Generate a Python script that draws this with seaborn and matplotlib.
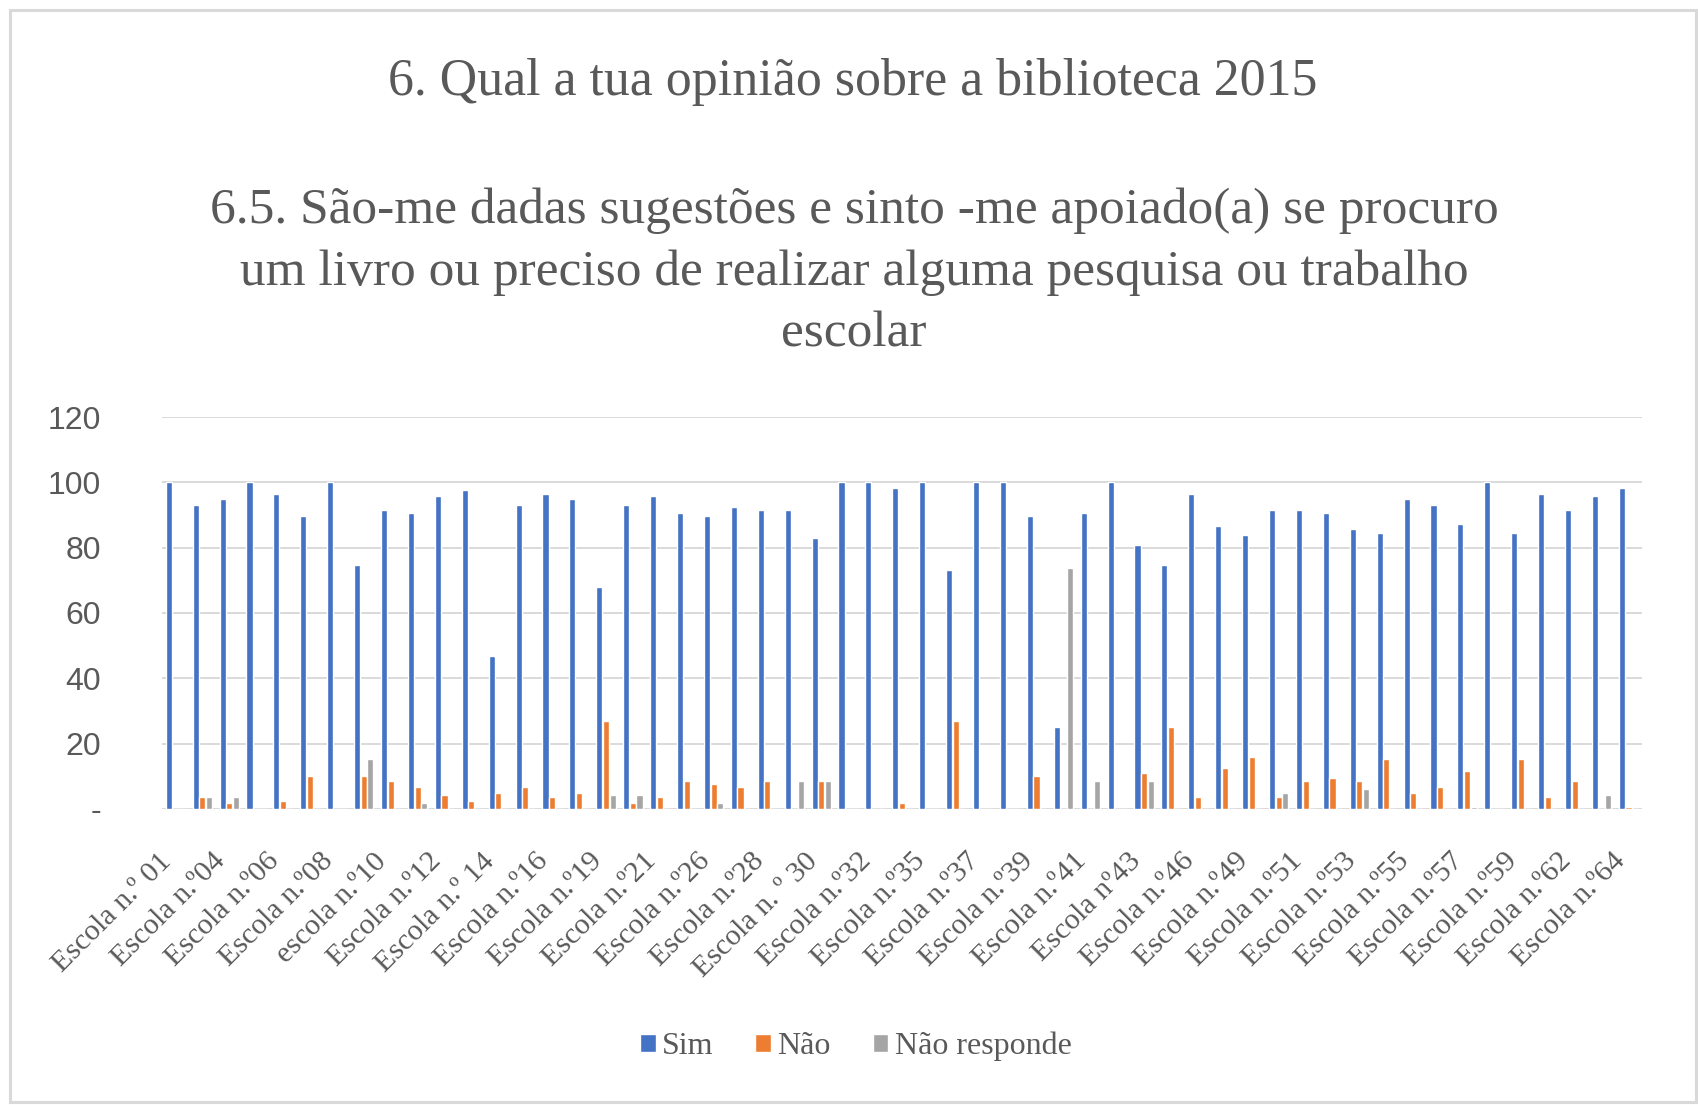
import pandas as pd
import matplotlib.pyplot as plt
import seaborn as sns
from matplotlib.patches import Rectangle
from matplotlib.ticker import FuncFormatter
from matplotlib.transforms import ScaledTranslation

# escolas (só metade dos nomes aparece no eixo)
escolas = ['Escola n.º 01', 'Escola n.º03', 'Escola n.º04', 'Escola n.º05', 'Escola n.º06',
           'Escola n.º07', 'Escola n.º08', 'Escola n.º09', 'escola n.º10', 'Escola n.º11',
           'Escola n.º12', 'Escola n.º13', 'Escola n.º 14', 'Escola n.º15', 'Escola n.º16',
           'Escola n.º18', 'Escola n.º19', 'Escola n.º20', 'Escola n.º21', 'Escola n.º24',
           'Escola n.º26', 'Escola n.º27', 'Escola n.º28', 'Escola n.º29', 'Escola n. º 30',
           'Escola n.º31', 'Escola n.º32', 'Escola n.º34', 'Escola n.º35', 'Escola n.º36',
           'Escola n.º37', 'Escola n.º38', 'Escola n.º39', 'Escola n.º40', 'Escola n.º41',
           'Escola n.º42', 'Escola nº43', 'Escola n.º45', 'Escola n.º46', 'Escola n.º48',
           'Escola n.º49', 'Escola n.º50', 'Escola n.º51', 'Escola n.º52', 'Escola n.º53',
           'Escola n.º54', 'Escola n.º55', 'Escola n.º56', 'Escola n.º57', 'Escola n.º58',
           'Escola n.º59', 'Escola n.º61', 'Escola n.º62', 'Escola n.º63', 'Escola n.º64']

sim = [100, 93.2, 94.8, 100, 96.5, 89.8, 100, 74.7, 91.5, 90.5,
       95.7, 97.5, 46.9, 93.2, 96.5, 94.8, 67.9, 93.2, 95.7, 90.5,
       89.8, 92.4, 91.5, 91.5, 83.0, 100, 100, 98.3, 100, 73.0,
       100, 100, 89.8, 25.2, 90.5, 100, 80.7, 74.7, 96.5, 86.5,
       84.0, 91.5, 91.5, 90.5, 85.6, 84.6, 94.8, 93.2, 87.3, 100,
       84.6, 96.5, 91.5, 95.7, 98.3]
nao = [0, 3.5, 1.7, 0, 2.4, 10.1, 0, 10.1, 8.4, 6.6,
       4.2, 2.4, 5.0, 6.6, 3.5, 5.0, 26.9, 1.7, 3.5, 8.4,
       7.6, 6.6, 8.4, 0, 8.4, 0, 0, 1.7, 0, 26.9,
       0, 0, 10.1, 0, 0, 0, 10.9, 25.2, 3.5, 12.6,
       16.0, 3.5, 8.4, 9.3, 8.4, 15.2, 5.0, 6.6, 11.7, 0,
       15.2, 3.5, 8.4, 0, 0.6]
nao_responde = [0, 3.5, 3.5, 0, 0, 0, 0, 15.2, 0, 1.7,
                0, 0, 0, 0, 0, 0, 4.2, 4.2, 0, 0,
                1.7, 0, 0, 8.4, 8.4, 0, 0, 0, 0, 0,
                0, 0, 0, 73.8, 8.4, 0, 8.4, 0, 0, 0,
                0, 5.0, 0, 0, 6.0, 0, 0, 0, 0.5, 0,
                0, 0, 0, 4.2, 0]

series = ['Sim', 'Não', 'Não responde']
cores = ['#4472C4', '#ED7D31', '#A5A5A5']

df = pd.DataFrame({'escola': escolas, 'Sim': sim, 'Não': nao, 'Não responde': nao_responde})
df = df.melt(id_vars='escola', var_name='resposta', value_name='pct')

sns.set_theme(style='white')
plt.rcParams['font.family'] = ['Liberation Serif', 'DejaVu Serif']
cinza = '#595959'

fig = plt.figure(figsize=(16.98, 11.05), dpi=100)
ax = fig.add_axes([0.0954, 0.268, 0.8716, 0.3546])

sns.barplot(data=df, x='escola', y='pct', hue='resposta', hue_order=series,
            palette=cores, width=0.74, gap=0.08, saturation=1, ax=ax, legend=True)

ax.set_ylim(0, 120)
ax.set_xlim(-0.5, len(escolas) - 0.5)
ax.set_yticks(range(0, 121, 20))
ax.yaxis.set_major_formatter(FuncFormatter(lambda v, p: '-' if v == 0 else f'{int(v)}'))
ax.yaxis.grid(True, color='#D9D9D9', linewidth=1.4)
ax.set_axisbelow(True)
for s in ax.spines.values():
    s.set_visible(False)
ax.set_xlabel('')
ax.set_ylabel('')
ax.tick_params(axis='y', length=0, pad=44, labelsize=23, labelcolor=cinza)
for t in ax.get_yticklabels():
    t.set_family('Liberation Sans')

ax.set_xticks(range(0, len(escolas), 2))
ax.set_xticklabels(escolas[::2], rotation=45, ha='right', rotation_mode='anchor',
                   fontsize=21.5, color=cinza)
ax.tick_params(axis='x', length=0, pad=16)
desvio = ScaledTranslation(-0.17, -0.17, fig.dpi_scale_trans)
for t in ax.get_xticklabels():
    t.set_transform(t.get_transform() + desvio)

h, l = ax.get_legend_handles_labels()
ax.legend(h, l, loc='center', bbox_to_anchor=(0.504, 0.053), bbox_transform=fig.transFigure,
          ncol=3, frameon=False, fontsize=23, labelcolor=cinza,
          handlelength=0.5, handleheight=0.5, handletextpad=0.2, columnspacing=1.3)

fig.text(0.502, 0.9256, '6. Qual a tua opinião sobre a biblioteca 2015',
         ha='center', va='center', fontsize=37.4, color=cinza)
fig.text(0.503, 0.753, '6.5. São-me dadas sugestões e sinto -me apoiado(a) se procuro\n'
         'um livro ou preciso de realizar alguma pesquisa ou trabalho\nescolar',
         ha='center', va='center', fontsize=37, color=cinza, linespacing=1.43)

fig.add_artist(Rectangle((0.0059, 0.0027), 0.9929, 0.988, transform=fig.transFigure,
                         fill=False, edgecolor='#D9D9D9', linewidth=2.2))

fig.savefig('out.png', dpi=100)
